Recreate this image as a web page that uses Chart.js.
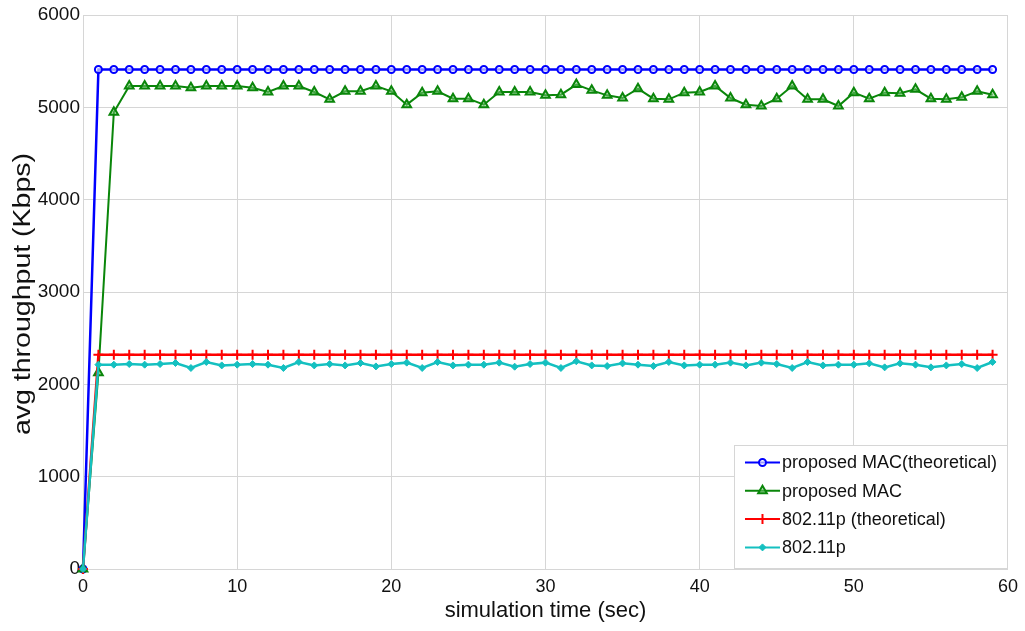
<!DOCTYPE html>
<html>
<head>
<meta charset="utf-8">
<script src="https://cdn.jsdelivr.net/npm/chart.js@4.4.1/dist/chart.umd.min.js"></script>
<style>
  html, body { margin: 0; padding: 0; background: #fff; }
  #wrap { width: 1025px; height: 631px; }
</style>
</head>
<body>
<div id="wrap"><canvas id="tputChart" width="1025" height="631"></canvas></div>
<script>
// simulation time (sec)
const times = [0, 1, 2, 3, 4, 5, 6, 7, 8, 9, 10, 11, 12, 13, 14, 15, 16, 17, 18, 19,
  20, 21, 22, 23, 24, 25, 26, 27, 28, 29, 30, 31, 32, 33, 34, 35, 36, 37, 38, 39,
  40, 41, 42, 43, 44, 45, 46, 47, 48, 49, 50, 51, 52, 53, 54, 55, 56, 57, 58, 59];

// avg throughput (Kbps)
const proposedTheory = [0, 5410, 5410, 5410, 5410, 5410, 5410, 5410, 5410, 5410, 5410, 5410, 5410, 5410, 5410,
  5410, 5410, 5410, 5410, 5410, 5410, 5410, 5410, 5410, 5410, 5410, 5410, 5410, 5410, 5410,
  5410, 5410, 5410, 5410, 5410, 5410, 5410, 5410, 5410, 5410, 5410, 5410, 5410, 5410, 5410,
  5410, 5410, 5410, 5410, 5410, 5410, 5410, 5410, 5410, 5410, 5410, 5410, 5410, 5410, 5410];
const proposedSim = [0, 2126, 4946, 5231, 5231, 5231, 5231, 5213, 5231, 5231, 5231, 5213, 5166, 5231, 5231,
  5166, 5087, 5174, 5174, 5231, 5174, 5029, 5159, 5174, 5094, 5094, 5029, 5166, 5166, 5166,
  5130, 5137, 5246, 5184, 5130, 5101, 5202, 5094, 5087, 5159, 5166, 5231, 5101, 5029, 5014,
  5094, 5231, 5087, 5087, 5014, 5159, 5094, 5159, 5152, 5195, 5094, 5087, 5108, 5174, 5137];
const dot11pTheory = [0, 2320, 2320, 2320, 2320, 2320, 2320, 2320, 2320, 2320, 2320, 2320, 2320, 2320, 2320,
  2320, 2320, 2320, 2320, 2320, 2320, 2320, 2320, 2320, 2320, 2320, 2320, 2320, 2320, 2320,
  2320, 2320, 2320, 2320, 2320, 2320, 2320, 2320, 2320, 2320, 2320, 2320, 2320, 2320, 2320,
  2320, 2320, 2320, 2320, 2320, 2320, 2320, 2320, 2320, 2320, 2320, 2320, 2320, 2320, 2320];
const dot11pSim = [0, 2213, 2213, 2220, 2213, 2220, 2231, 2177, 2242, 2205, 2213, 2220, 2213, 2177, 2242,
  2205, 2220, 2205, 2231, 2194, 2220, 2235, 2177, 2242, 2205, 2213, 2213, 2235, 2191, 2220,
  2235, 2177, 2250, 2205, 2198, 2227, 2213, 2198, 2242, 2205, 2213, 2213, 2235, 2205, 2235,
  2220, 2177, 2242, 2205, 2213, 2213, 2227, 2184, 2227, 2213, 2184, 2205, 2220, 2177, 2242];

const xTicks = [0, 10, 20, 30, 40, 50, 60];
const yTicks = [0, 1000, 2000, 3000, 4000, 5000, 6000];
const yTitle = "avg throughput (Kbps)";

const FONT = "'Liberation Sans', Arial, sans-serif";
const GRID = "#d6d6d6";

function pts(ys) {
  return ys.map((y, i) => ({ x: times[i], y: y }));
}

// legend boxed in the lower right corner of the plot
const boxLegend = {
  id: "boxLegend",
  afterDatasetsDraw(chart) {
    const ctx = chart.ctx;
    const area = chart.chartArea;
    const w = 274, h = 124, rowH = 28.3;
    const x0 = area.right - w, y0 = area.bottom - h;
    ctx.save();
    ctx.fillStyle = "#fff";
    ctx.fillRect(x0, y0, w, h);
    ctx.strokeStyle = GRID;
    ctx.lineWidth = 1;
    ctx.strokeRect(x0 + 0.5, y0 + 0.5, w - 1, h - 1);
    ctx.font = "18px " + FONT;
    ctx.textBaseline = "middle";
    chart.data.datasets.forEach((ds, i) => {
      const y = y0 + 17.5 + i * rowH;
      ctx.strokeStyle = ds.borderColor;
      ctx.lineWidth = 2;
      ctx.beginPath();
      ctx.moveTo(x0 + 11, y);
      ctx.lineTo(x0 + 46, y);
      ctx.stroke();
      ctx.fillStyle = ds.pointBackgroundColor;
      ctx.strokeStyle = ds.borderColor;
      ctx.lineWidth = ds.pointBorderWidth;
      Chart.helpers.drawPoint(ctx, {
        pointStyle: ds.pointStyle,
        radius: ds.pointRadius,
        borderWidth: ds.pointBorderWidth,
        rotation: 0
      }, x0 + 28.5, y);
      ctx.fillStyle = "#111";
      ctx.fillText(ds.label, x0 + 48, y + 1);
    });
    ctx.restore();
  }
};

// rotated y-axis title, drawn a little elongated along its length
const yAxisTitle = {
  id: "yAxisTitle",
  afterDraw(chart) {
    const ctx = chart.ctx;
    const area = chart.chartArea;
    ctx.save();
    ctx.translate(24, (area.top + area.bottom) / 2 + 2);
    ctx.rotate(-Math.PI / 2);
    ctx.scale(1.24, 1);
    ctx.font = "23px " + FONT;
    ctx.fillStyle = "#111";
    ctx.textAlign = "center";
    ctx.textBaseline = "middle";
    ctx.fillText(yTitle, 0, 0);
    ctx.restore();
  }
};

const ctx = document.getElementById("tputChart").getContext("2d");
new Chart(ctx, {
  type: "line",
  data: {
    datasets: [
      {
        label: "proposed MAC(theoretical)",
        data: pts(proposedTheory),
        borderColor: "#0000ff",
        borderWidth: 2.5,
        pointStyle: "circle",
        pointRadius: 3.5,
        pointBorderWidth: 2,
        pointBackgroundColor: "rgba(255,255,255,0.6)",
        order: 4
      },
      {
        label: "proposed MAC",
        data: pts(proposedSim),
        borderColor: "#0a860a",
        borderWidth: 2,
        pointStyle: "triangle",
        pointRadius: 5,
        pointBorderWidth: 2,
        pointBackgroundColor: "rgba(120,200,120,0.5)",
        order: 3
      },
      {
        label: "802.11p (theoretical)",
        data: pts(dot11pTheory),
        borderColor: "#ff0000",
        borderWidth: 2.5,
        pointStyle: "cross",
        pointRadius: 5,
        pointBorderWidth: 2,
        pointBackgroundColor: "#ff0000",
        order: 2
      },
      {
        label: "802.11p",
        data: pts(dot11pSim),
        borderColor: "#14c0c0",
        borderWidth: 2.5,
        pointStyle: "rectRot",
        pointRadius: 3.5,
        pointBorderWidth: 1,
        pointBackgroundColor: "#14c0c0",
        order: 1
      }
    ]
  },
  options: {
    responsive: false,
    animation: false,
    clip: false,
    layout: { padding: { top: 15, right: 17, left: 0, bottom: 0 } },
    elements: { line: { tension: 0, fill: false } },
    plugins: {
      legend: { display: false },
      tooltip: { enabled: false }
    },
    scales: {
      x: {
        type: "linear",
        min: 0,
        max: 60,
        afterFit(scale) { scale.height = 62; },
        afterBuildTicks(scale) { scale.ticks = xTicks.map(v => ({ value: v })); },
        grid: { color: GRID, drawTicks: false },
        border: { color: GRID },
        ticks: {
          color: "#111",
          padding: 7,
          font: { family: FONT, size: 18 },
          callback: v => String(v)
        },
        title: {
          display: true,
          text: "simulation time (sec)",
          color: "#111",
          padding: { top: 0, bottom: 7 },
          font: { family: FONT, size: 22 }
        }
      },
      y: {
        min: 0,
        max: 6000,
        afterFit(scale) { scale.width = 83; },
        afterBuildTicks(scale) { scale.ticks = yTicks.map(v => ({ value: v })); },
        grid: { color: GRID, drawTicks: false },
        border: { color: GRID },
        ticks: {
          color: "#111",
          padding: 3,
          font: { family: FONT, size: 19 },
          callback: v => String(v)
        }
      }
    }
  },
  plugins: [boxLegend, yAxisTitle]
});
</script>
</body>
</html>
